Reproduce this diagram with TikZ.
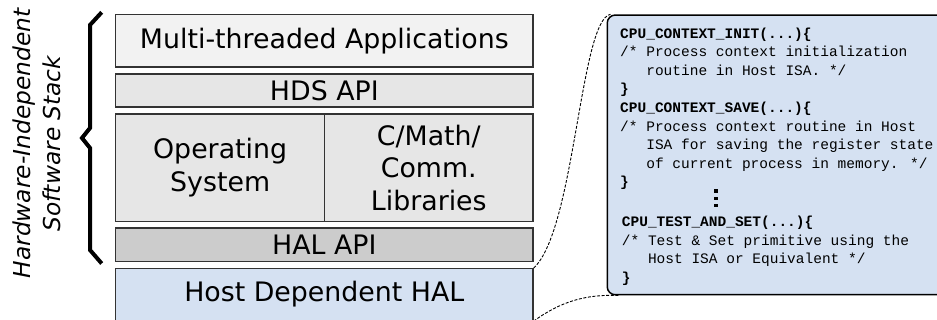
\documentclass[tikz,border=0pt]{standalone}
\usepackage{fontspec}
\setmainfont{DejaVu Sans}
\newfontfamily\codefont{Liberation Mono}
\definecolor{appfill}{HTML}{F2F2F2}
\definecolor{midfill}{HTML}{E6E6E6}
\definecolor{halfill}{HTML}{CCCCCC}
\definecolor{bluefill}{HTML}{D5E1F2}
\definecolor{edge}{HTML}{333333}
\tikzset{
  layer/.style={draw=edge, line width=1.3pt, inner sep=0pt, align=center,
    font=\fontsize{26.8}{32.5}\selectfont},
  codetext/.style={anchor=base west, inner sep=0pt,
    font=\codefont\fontsize{14.5}{18.55}\selectfont},
  conn/.style={draw=black, line width=0.9pt, dash pattern=on 3pt off 1.6pt},
  bracestroke/.style={line width=4pt, line join=miter},
  dotsq/.style={fill=black}
}
\begin{document}
\begin{tikzpicture}[x=1pt,y=-1pt]
\useasboundingbox (0,0) rectangle (937,320);
% stack
\node[layer, fill=appfill, minimum width=417.3pt, minimum height=52.7pt] (app) at (324.35,40.65) {Multi-threaded Applications};
\node[layer, fill=midfill, minimum width=417.3pt, minimum height=33pt] (hds) at (324.35,90.5) {HDS API};
\node[layer, fill=midfill, minimum width=208.9pt, minimum height=107.7pt] (os) at (220.15,167.85) {Operating\\System};
\node[layer, fill=midfill, minimum width=208.4pt, minimum height=107.7pt] (lib) at (428.8,167.85) {C/Math/\\Comm.\\Libraries};
\node[layer, fill=halfill, minimum width=417.3pt, minimum height=33.7pt] (hal) at (324.35,244.85) {HAL API};
\node[layer, fill=bluefill, minimum width=417.3pt, minimum height=51.8pt] (host) at (324.35,294.6) {Host Dependent HAL};
% brace and label
\draw[bracestroke] (101.7,12.3) -- (90,25) -- (90,128) -- (82,138) -- (90,148) -- (90,250) -- (101.7,263.5);
\node[rotate=90, align=center, inner sep=0pt, font=\itshape\fontsize{23.3}{30}\selectfont] (lbl) at (37,143.5) {Hardware-Independent\\Software Stack};
% code box
\node[draw=black, line width=1.5pt, fill=bluefill, rounded corners=8pt, minimum width=360pt, minimum height=279.7pt, anchor=north west, inner sep=0pt] (code) at (606.5,14.3) {};
\node[codetext] (c1) at (620,38.3) {\vtop{%
\hbox{\textbf{CPU\_CONTEXT\_INIT(...)\{}}%
\hbox{/* Process context initialization}%
\hbox{\hphantom{/*~}routine in Host ISA. */}%
\hbox{\textbf{\}}}%
\hbox{\textbf{CPU\_CONTEXT\_SAVE(...)\{}}%
\hbox{/* Process context routine in Host}%
\hbox{\hphantom{/*~}ISA for saving the register state}%
\hbox{\hphantom{/*~}of current process in memory. */}%
\hbox{\textbf{\}}}}};
\node[codetext] (c2) at (621.7,226.7) {\vtop{%
\hbox{\textbf{CPU\_TEST\_AND\_SET(...)\{}}%
\hbox{/* Test \& Set primitive using the}%
\hbox{\hphantom{/*~}Host ISA or Equivalent */}%
\hbox{\textbf{\}}}}};
\fill[dotsq] (713.7,189.3) rectangle (717.7,192.8);
\fill[dotsq] (713.7,196.6) rectangle (717.7,200.1);
\fill[dotsq] (713.7,203.9) rectangle (717.7,207.4);
% connectors
\draw[conn] (host.north east) .. controls (575,230) and (580,20) .. ([xshift=4pt]code.north west);
\draw[conn] (host.south east) .. controls (560,302) and (585,294) .. ([xshift=13pt]code.south west);
\end{tikzpicture}
\end{document}
